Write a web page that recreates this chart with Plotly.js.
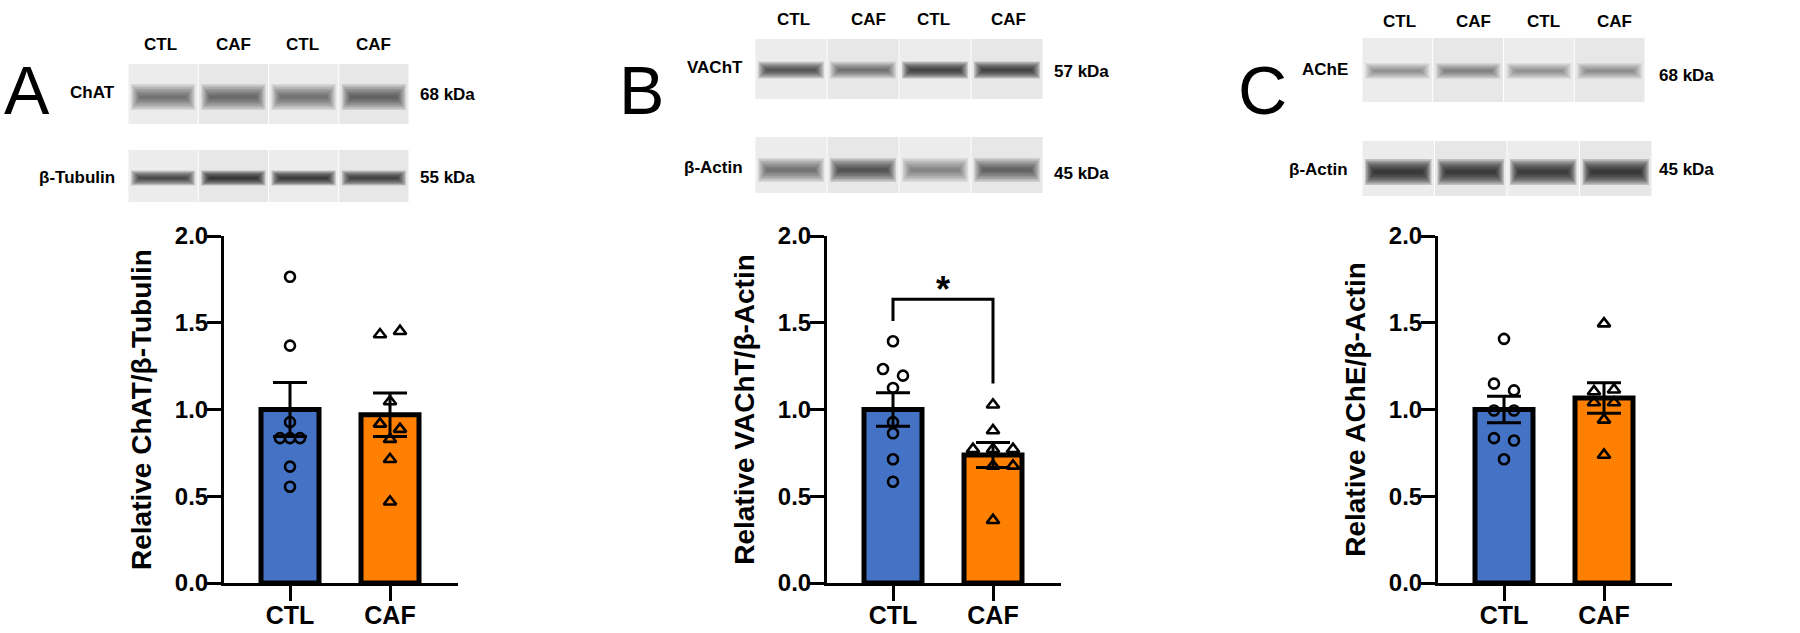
<!DOCTYPE html>
<html>
<head>
<meta charset="utf-8">
<script src="https://cdn.plot.ly/plotly-3.0.1.min.js"></script>
<style>
  html, body { margin: 0; padding: 0; background: #fff; }
  #chart { width: 1800px; height: 633px; }
</style>
</head>
<body>
<div id="chart"></div>
<script>
const W = 1800;
const H = 633;
const FONT = 'Arial, "Liberation Sans", sans-serif';

const groups = ['CTL', 'CAF'];
const laneLabels = ['CTL', 'CAF', 'CTL', 'CAF'];
const BAR_COLORS = ['#4472C4', '#FF8000'];

// panel A - ChAT / beta-tubulin
const chatCtl = [1.765, 1.368, 0.927, 0.835, 0.835, 0.835, 0.671, 0.555];
const chatCaf = [1.451, 1.432, 1.046, 0.917, 0.887, 0.829, 0.713, 0.468];
const chatMean = [1.0, 0.97];
const chatSem = [0.155, 0.125];

// panel B - VAChT / beta-actin
const vachtCtl = [1.393, 1.233, 1.195, 1.124, 0.927, 0.863, 0.713, 0.584];
const vachtCaf = [1.027, 0.879, 0.771, 0.771, 0.771, 0.675, 0.675, 0.362];
const vachtMean = [1.0, 0.738];
const vachtSem = [0.097, 0.072];

// panel C - AChE / beta-actin
const acheCtl = [1.407, 1.149, 1.110, 0.994, 0.994, 0.835, 0.821, 0.713];
const acheCaf = [1.495, 1.114, 1.104, 1.040, 1.040, 0.940, 0.738];
const acheMean = [1.0, 1.066];
const acheSem = [0.077, 0.088];

// relative band intensity per lane (CTL, CAF, CTL, CAF)
const chatBands = [0.55, 0.65, 0.6, 0.7];
const tubulinBands = [0.95, 1.2, 1.15, 1.05];
const vachtBands = [0.8, 0.55, 1.05, 1.05];
const actinBandsB = [0.6, 0.8, 0.45, 0.7];
const acheBands = [0.4, 0.45, 0.4, 0.4];
const actinBandsC = [1.2, 1.15, 1.15, 1.2];

// horizontal spread of the dots (in steps of 0.1 category)
const chatCtlJitter = [0, 0, 0, -1, 0, 1, 0, 0];
const chatCafJitter = [1, -1, 0, -1, 1, 0, 0, 0];
const vachtCtlJitter = [0, -1, 1, 0, 0, 0, 0, 0];
const vachtCafJitter = [0, 0, -2, 0, 2, 0, 2, 0];
const acheCtlJitter = [0, -1, 1, -1, 1, -1, 1, 0];
const acheCafJitter = [0, 1, -1, -1, 1, 0, 0];

const px = x => x / W;
const py = y => 1 - y / H;

const panels = [
  {
    letter: 'A', letterX: 27, axisLeft: 224,
    title: 'Relative ChAT/β-Tubulin',
    ctl: chatCtl, caf: chatCaf, mean: chatMean, sem: chatSem,
    ctlJitter: chatCtlJitter, cafJitter: chatCafJitter,
    laneX: [160, 233, 302, 373], laneY: 44,
    blots: [
      {name: 'ChAT', kda: '68 kDa', x0: 128, x1: 409, y0: 64, y1: 124, bandY: 97, bandH: 26, bands: chatBands, labelY: 93, kdaY: 95},
      {name: 'β-Tubulin', kda: '55 kDa', x0: 128, x1: 409, y0: 150, y1: 202, bandY: 178, bandH: 15, bands: tubulinBands, labelY: 177, kdaY: 177},
    ],
    labelRight: 117, kdaLeft: 418,
  },
  {
    letter: 'B', letterX: 641, axisLeft: 827,
    title: 'Relative VAChT/β-Actin',
    ctl: vachtCtl, caf: vachtCaf, mean: vachtMean, sem: vachtSem,
    ctlJitter: vachtCtlJitter, cafJitter: vachtCafJitter,
    laneX: [793, 868, 934, 1008], laneY: 20,
    blots: [
      {name: 'VAChT', kda: '57 kDa', x0: 755, x1: 1043, y0: 39, y1: 99, bandY: 70, bandH: 17, bands: vachtBands, labelY: 67, kdaY: 72},
      {name: 'β-Actin', kda: '45 kDa', x0: 755, x1: 1043, y0: 137, y1: 193, bandY: 170, bandH: 24, bands: actinBandsB, labelY: 167, kdaY: 173},
    ],
    labelRight: 745, kdaLeft: 1052,
  },
  {
    letter: 'C', letterX: 1262, axisLeft: 1438,
    title: 'Relative AChE/β-Actin',
    ctl: acheCtl, caf: acheCaf, mean: acheMean, sem: acheSem,
    ctlJitter: acheCtlJitter, cafJitter: acheCafJitter,
    laneX: [1399, 1473, 1543, 1614], laneY: 21,
    blots: [
      {name: 'AChE', kda: '68 kDa', x0: 1362, x1: 1645, y0: 38, y1: 102, bandY: 71, bandH: 16, bands: acheBands, labelY: 70, kdaY: 75},
      {name: 'β-Actin', kda: '45 kDa', x0: 1362, x1: 1652, y0: 141, y1: 196, bandY: 172, bandH: 26, bands: actinBandsC, labelY: 170, kdaY: 170},
    ],
    labelRight: 1350, kdaLeft: 1657,
  },
];

const data = [];
const shapes = [];
const annotations = [];
const layout = {
  width: W,
  height: H,
  margin: {l: 0, r: 0, t: 0, b: 0},
  paper_bgcolor: '#fff',
  plot_bgcolor: 'rgba(0,0,0,0)',
  showlegend: false,
  font: {family: FONT, color: '#000'},
  shapes: shapes,
  annotations: annotations,
};

const X_RANGE = [-0.66, 1.68];
const AXIS_W = 234;
const Y_DOMAIN = [py(583), py(236)];

panels.forEach((p, i) => {
  const n = i === 0 ? '' : String(i + 1);
  const xa = 'x' + n;
  const ya = 'y' + n;

  layout['xaxis' + n] = {
    domain: [px(p.axisLeft), px(p.axisLeft + AXIS_W)],
    anchor: ya,
    range: X_RANGE,
    showgrid: false,
    zeroline: false,
    showline: true,
    linewidth: 3,
    linecolor: '#000',
    ticks: 'outside',
    ticklen: 15,
    tickwidth: 3,
    tickcolor: '#000',
    tickvals: [0, 1],
    ticktext: groups,
    ticklabelstandoff: -7,
    tickfont: {family: FONT, size: 25, weight: 'bold', color: '#000'},
    fixedrange: true,
  };
  layout['yaxis' + n] = {
    domain: Y_DOMAIN,
    anchor: xa,
    range: [0, 2],
    dtick: 0.5,
    tickformat: '.1f',
    showgrid: false,
    zeroline: false,
    showline: true,
    linewidth: 3,
    linecolor: '#000',
    ticks: 'outside',
    ticklen: 14,
    tickwidth: 3,
    tickcolor: '#000',
    ticklabelstandoff: -6,
    tickfont: {family: FONT, size: 24, weight: 'bold', color: '#000'},
    title: {text: p.title, font: {family: FONT, size: 28, weight: 'bold', color: '#000'}, standoff: 16},
    fixedrange: true,
  };

  // mean bars with SEM
  data.push({
    type: 'bar',
    x: [0, 1],
    y: p.mean,
    xaxis: xa,
    yaxis: ya,
    width: 0.58,
    marker: {color: BAR_COLORS, line: {color: '#000', width: 5}},
    error_y: {type: 'data', array: p.sem, visible: true, color: '#000', thickness: 3, width: 17},
    hoverinfo: 'skip',
  });

  // individual animals
  data.push({
    type: 'scatter',
    mode: 'markers',
    x: p.ctl.map((v, k) => 0 + p.ctlJitter[k] * 0.1),
    y: p.ctl,
    xaxis: xa,
    yaxis: ya,
    cliponaxis: false,
    marker: {symbol: 'circle-open', size: 10, color: '#000', line: {color: '#000', width: 2.6}},
    hoverinfo: 'skip',
  });
  data.push({
    type: 'scatter',
    mode: 'markers',
    x: p.caf.map((v, k) => 1 + p.cafJitter[k] * 0.1),
    y: p.caf,
    xaxis: xa,
    yaxis: ya,
    cliponaxis: false,
    marker: {symbol: 'triangle-up-open', size: 11, color: '#000', line: {color: '#000', width: 2.6}},
    hoverinfo: 'skip',
  });

  // panel letter
  annotations.push({
    text: p.letter,
    xref: 'paper', yref: 'paper',
    x: px(p.letterX), y: py(90),
    xanchor: 'center', yanchor: 'middle',
    showarrow: false,
    font: {family: FONT, size: 68, color: '#000'},
  });

  // lane labels
  p.laneX.forEach((lx, k) => {
    annotations.push({
      text: laneLabels[k],
      xref: 'paper', yref: 'paper',
      x: px(lx), y: py(p.laneY),
      xanchor: 'center', yanchor: 'middle',
      showarrow: false,
      font: {family: FONT, size: 17, weight: 'bold', color: '#000'},
    });
  });

  // western blot strips: pale lanes with soft dark bands
  p.blots.forEach(b => {
    const laneW = (b.x1 - b.x0) / 4;
    for (let k = 0; k < 4; k++) {
      const lx0 = b.x0 + k * laneW;
      const lx1 = lx0 + laneW;
      shapes.push({
        type: 'rect', xref: 'paper', yref: 'paper',
        x0: px(lx0 + 0.5), x1: px(lx1 - 0.5), y0: py(b.y0), y1: py(b.y1),
        fillcolor: k % 2 === 0 ? '#ececec' : '#e7e7e7',
        line: {width: 0},
      });
      const d = b.bands[k];
      const layers = 8;
      for (let j = 0; j < layers; j++) {
        const f = 1 - j / layers;
        const inset = 3 + j * 1.2;
        shapes.push({
          type: 'rect', xref: 'paper', yref: 'paper',
          x0: px(lx0 + inset), x1: px(lx1 - inset),
          y0: py(b.bandY - b.bandH * f / 2), y1: py(b.bandY + b.bandH * f / 2),
          fillcolor: `rgba(25,25,25,${Math.min(0.6, d * 0.17)})`,
          line: {width: 0},
        });
      }
    }
    annotations.push({
      text: b.name,
      xref: 'paper', yref: 'paper',
      x: px(p.labelRight), y: py(b.labelY),
      xanchor: 'right', yanchor: 'middle',
      showarrow: false,
      font: {family: FONT, size: 17, weight: 'bold', color: '#000'},
    });
    annotations.push({
      text: b.kda,
      xref: 'paper', yref: 'paper',
      x: px(p.kdaLeft), y: py(b.kdaY),
      xanchor: 'left', yanchor: 'middle',
      showarrow: false,
      font: {family: FONT, size: 17, weight: 'bold', color: '#000'},
    });
  });
});

// significance bracket for VAChT
const bracketY = [1.51, 1.635, 1.635, 1.15];
data.push({
  type: 'scatter',
  mode: 'lines',
  x: [0, 0, 1, 1],
  y: bracketY,
  xaxis: 'x2',
  yaxis: 'y2',
  line: {color: '#000', width: 3},
  cliponaxis: false,
  hoverinfo: 'skip',
});
annotations.push({
  text: '*',
  xref: 'x2', yref: 'y2',
  x: 0.5, y: 1.69,
  xanchor: 'center', yanchor: 'middle',
  showarrow: false,
  font: {family: FONT, size: 36, weight: 'bold', color: '#000'},
});

Plotly.newPlot('chart', data, layout, {displayModeBar: false, staticPlot: true});
</script>
</body>
</html>
